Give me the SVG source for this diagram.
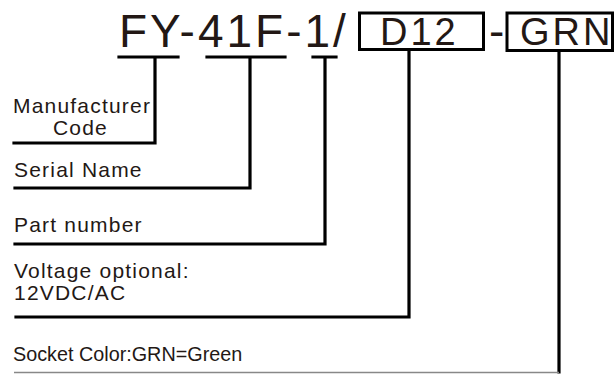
<svg xmlns="http://www.w3.org/2000/svg" width="615" height="374" viewBox="0 0 615 374">
<style>
.big{font-family:"Liberation Sans",Arial,sans-serif;font-size:46px;fill:#231815;letter-spacing:3px}
.box{font-family:"Liberation Sans",Arial,sans-serif;font-size:38px;fill:#231815;letter-spacing:3px}
.lbl{font-family:"Liberation Sans",Arial,sans-serif;font-size:21px;fill:#231815;letter-spacing:1.2px}
.ln{fill:none;stroke:#000;stroke-width:3.2;stroke-linecap:square;stroke-linejoin:miter}
.frame{fill:#fff;stroke:#000;stroke-width:3}
</style>
<rect width="615" height="374" fill="#fff"/>
<g id="code">
  <text class="big" x="119" y="47">FY-41F-1/</text>
  <g id="box-d12">
    <rect class="frame" x="359.5" y="13" width="124" height="36.5"/>
    <text class="box" x="380" y="45">D12</text>
  </g>
  <text class="big" x="489" y="47">-</text>
  <g id="box-grn">
    <rect class="frame" x="507" y="13" width="105.5" height="37.5"/>
    <text class="box" x="520" y="45">GRN</text>
  </g>
</g>
<g id="connectors">
  <path class="ln" d="M119,57 H178 M155,57 V143 H14"/>
  <path class="ln" d="M207,57 H285 M250,57 V188 H15"/>
  <path class="ln" d="M313,57 H336 M325,57 V244 H15"/>
  <path class="ln" d="M409,50 V317 H16"/>
  <path class="ln" d="M559,51 V372"/>
  <path d="M14,372.5 H559" stroke="#888" stroke-width="1.5" fill="none"/>
</g>
<g id="manufacturer">
  <text class="lbl" x="13" y="113">Manufacturer</text>
  <text class="lbl" x="53" y="135">Code</text>
</g>
<g id="serial">
  <text class="lbl" x="14" y="177">Serial Name</text>
</g>
<g id="part">
  <text class="lbl" x="14" y="232">Part number</text>
</g>
<g id="voltage">
  <text class="lbl" x="14" y="278">Voltage optional:</text>
  <text class="lbl" x="14" y="300">12VDC/AC</text>
</g>
<g id="socket">
  <text class="lbl" x="13" y="361" style="letter-spacing:0;font-size:19.8px">Socket Color:GRN=Green</text>
</g>
</svg>
